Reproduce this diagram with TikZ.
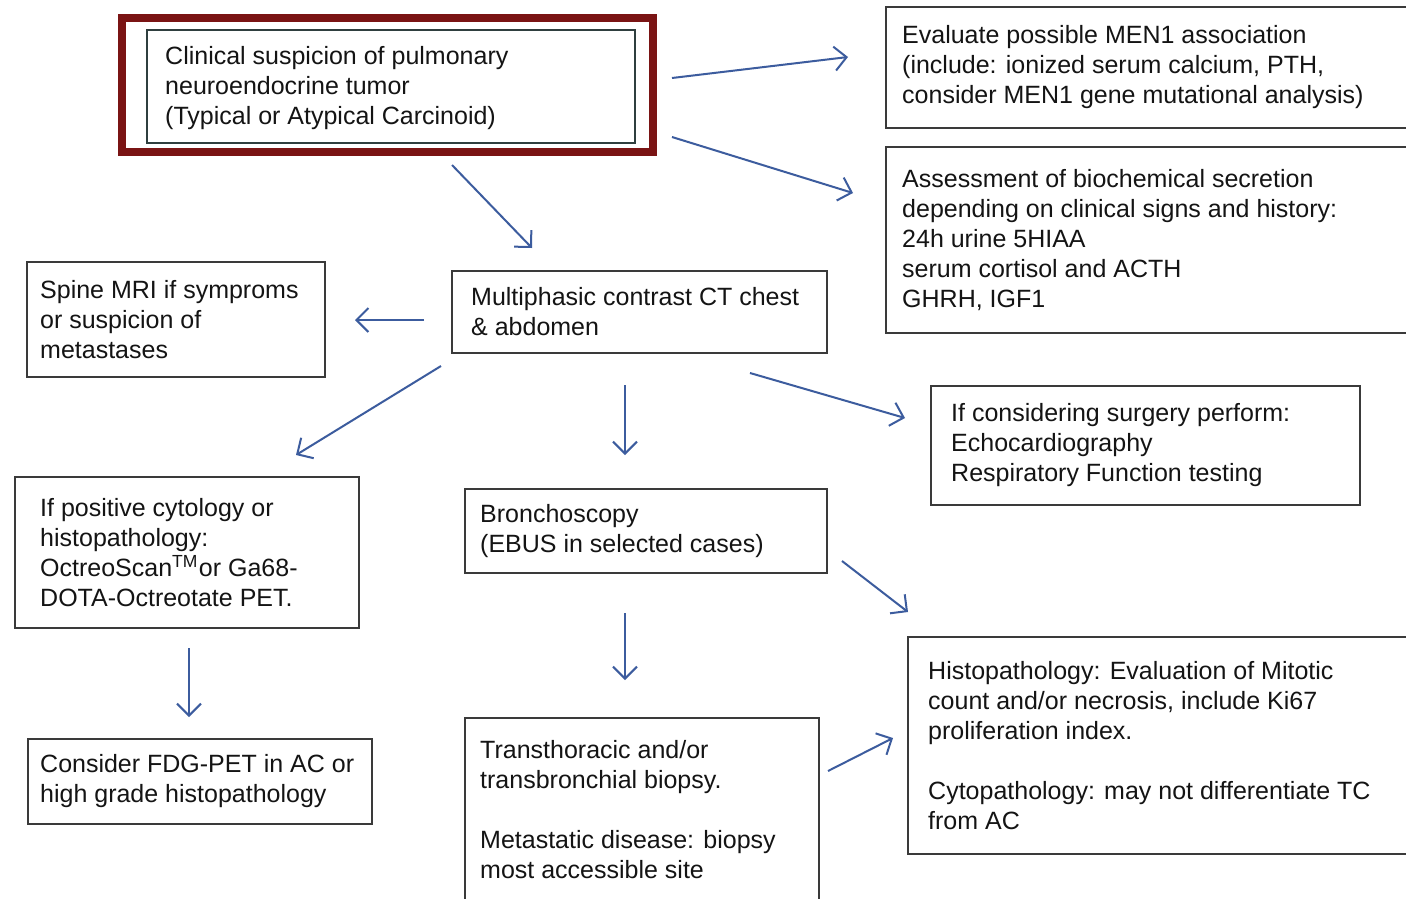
\documentclass[tikz,border=0pt]{standalone}
\usepackage{fontspec}
\setmainfont{Liberation Sans}
\usetikzlibrary{arrows.meta}
\definecolor{arr}{HTML}{3C5C9E}
\definecolor{boxc}{HTML}{3A3A3A}
\definecolor{redc}{HTML}{7A1414}
\definecolor{innerc}{HTML}{2F3F3F}
\definecolor{txtc}{HTML}{141414}
\begin{document}
\begin{tikzpicture}[x=1pt,y=-1pt,
  box/.style={draw=boxc, line width=1.4pt, fill=white, anchor=north west, inner sep=0pt, outer sep=0pt, rectangle},
  txt/.style={anchor=west, align=left, inner sep=0pt, text=txtc, font=\fontsize{25}{30}\selectfont},
  arrow/.style={draw=arr, line width=2pt, -{Straight Barb[length=12pt,width=24pt,line width=2pt]}}]
\clip (0,0) rectangle (1406,898);
\fill[white] (0,0) rectangle (1406,898);

% boxes
\node[box, draw=redc, line width=8pt, minimum width=531pt, minimum height=134pt] (outer) at (122,18) {};
\node[box, draw=innerc, line width=1.3pt, minimum width=488pt, minimum height=113pt] (top) at (147,30) {};
\node[box, minimum width=554pt, minimum height=121pt] (men) at (886,7) {};
\node[box, minimum width=554pt, minimum height=186pt] (bio) at (886,147) {};
\node[box, minimum width=298pt, minimum height=115pt] (spine) at (27,262) {};
\node[box, minimum width=375pt, minimum height=82pt] (ct) at (452,271) {};
\node[box, minimum width=429pt, minimum height=119pt] (surg) at (931,386) {};
\node[box, minimum width=344pt, minimum height=151pt] (pos) at (15,477) {};
\node[box, minimum width=362pt, minimum height=84pt] (bron) at (465,489) {};
\node[box, minimum width=344pt, minimum height=85pt] (fdg) at (28,739) {};
\node[box, minimum width=354pt, minimum height=183pt] (trans) at (465,718) {};
\node[box, minimum width=532pt, minimum height=217pt] (histo) at (908,637) {};

% texts
\node[txt] (ttop) at ([xshift=18pt,yshift=-1.5pt]top.west) {Clinical suspicion of pulmonary\\neuroendocrine tumor\\(Typical or Atypical Carcinoid)};
\node[txt] (tmen) at ([xshift=16pt]men.west) {Evaluate possible MEN1 association\\(include: ionized serum calcium, PTH,\\consider MEN1 gene mutational analysis)};
\node[txt] (tbio) at ([xshift=16pt]bio.west) {Assessment of biochemical secretion\\depending on clinical signs and history:\\24h urine 5HIAA\\serum cortisol and ACTH\\GHRH, IGF1};
\node[txt] (tspine) at ([xshift=13pt]spine.west) {Spine MRI if symproms\\or suspicion of\\metastases};
\node[txt] (tct) at ([xshift=19pt]ct.west) {Multiphasic contrast CT chest\\\& abdomen};
\node[txt] (tsurg) at ([xshift=20pt]surg.west) {If considering surgery perform:\\Echocardiography\\Respiratory Function testing};
\node[txt] (tpos) at ([xshift=25pt]pos.west) {If positive cytology or\\histopathology:\\OctreoScan\textsuperscript{TM}\kern1pt or Ga68-\\DOTA-Octreotate PET.};
\node[txt] (tbron) at ([xshift=15pt]bron.west) {Bronchoscopy\\(EBUS in selected cases)};
\node[txt] (tfdg) at ([xshift=12pt]fdg.west) {Consider FDG-PET in AC or\\high grade histopathology};
\node[txt] (ttrans) at ([xshift=15pt]trans.west) {Transthoracic and/or\\transbronchial biopsy.\\[30pt]Metastatic disease: biopsy\\most accessible site};
\node[txt] (thisto) at ([xshift=20pt]histo.west) {Histopathology: Evaluation of Mitotic\\count and/or necrosis, include Ki67\\proliferation index.\\[30pt]Cytopathology: may not differentiate TC\\from AC};

% arrow end points
\coordinate (a1s) at (672,78);   \coordinate (a1e) at (848,57);
\coordinate (a2s) at (672,137);  \coordinate (a2e) at (853,193);
\coordinate (a3s) at (452,165);  \coordinate (a3e) at (532,248);
\coordinate (a4s) at (424,320);  \coordinate (a4e) at (355,320);
\coordinate (a5s) at (441,366);  \coordinate (a5e) at (296,455);
\coordinate (a6s) at (625,385);  \coordinate (a6e) at (625,455);
\coordinate (a7s) at (750,373);  \coordinate (a7e) at (905,418);
\coordinate (a8s) at (842,561);  \coordinate (a8e) at (908,612);
\coordinate (a9s) at (625,613);  \coordinate (a9e) at (625,680);
\coordinate (a10s) at (189,648); \coordinate (a10e) at (189,717);
\coordinate (a11s) at (828,771); \coordinate (a11e) at (893,738);

\draw[arrow] (a1s) -- (a1e);
\draw[arrow] (a2s) -- (a2e);
\draw[arrow] (a3s) -- (a3e);
\draw[arrow] (a4s) -- (a4e);
\draw[arrow] (a5s) -- (a5e);
\draw[arrow] (a6s) -- (a6e);
\draw[arrow] (a7s) -- (a7e);
\draw[arrow] (a8s) -- (a8e);
\draw[arrow] (a9s) -- (a9e);
\draw[arrow] (a10s) -- (a10e);
\draw[arrow] (a11s) -- (a11e);
\end{tikzpicture}
\end{document}
